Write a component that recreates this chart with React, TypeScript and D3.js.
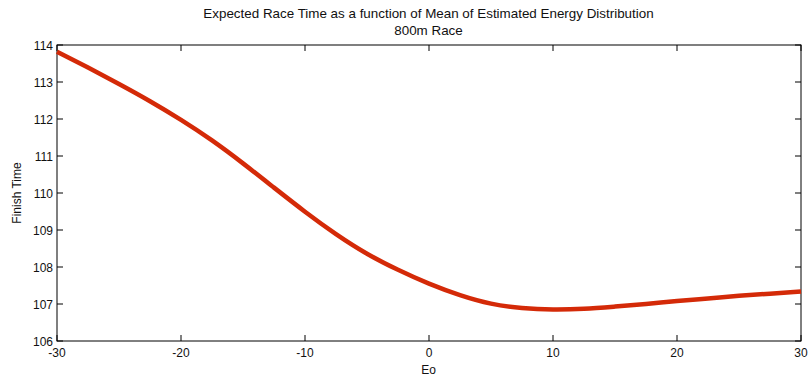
import React from "react";
import * as d3 from "d3";

const eoValues = [-30, -27.5, -25, -22.5, -20, -17.5, -15, -12.5, -10, -7.5, -5, -2.5, 0, 2.5, 5, 7.5, 10, 12.5, 15, 17.5, 20, 22.5, 25, 27.5, 30];
const finishTimes = [113.82, 113.39, 112.945, 112.48, 111.975, 111.42, 110.8, 110.145, 109.495, 108.89, 108.36, 107.925, 107.55, 107.24, 107.01, 106.89, 106.85, 106.87, 106.93, 107.0, 107.08, 107.15, 107.22, 107.28, 107.34];
const xTicks = [-30, -20, -10, 0, 10, 20, 30];
const yTicks = [106, 107, 108, 109, 110, 111, 112, 113, 114];
const titleLines = ["Expected Race Time as a function of Mean of Estimated Energy Distribution", "800m Race"];

const W = 808, H = 379;
const L = 57, R = 801, T = 45, B = 341;
const FONT = "'Liberation Sans', Arial, sans-serif";

export default function App() {
  const x = d3.scaleLinear().domain([-30, 30]).range([L, R]);
  const y = d3.scaleLinear().domain([106, 114]).range([B, T]);
  const pts = eoValues.map((e, i) => [e, finishTimes[i]] as [number, number]);
  const line = d3.line<[number, number]>().x(d => x(d[0])).y(d => y(d[1])).curve(d3.curveNatural);
  const tk = 6;
  return (
    <svg width={W} height={H} style={{ position: "absolute", left: 0, top: 0, background: "#fff" }}>
      <rect x={0} y={0} width={W} height={H} fill="#fff" />
      {titleLines.map((t, i) => (
        <text key={i} x={428.5} y={18 + i * 16.5} textAnchor="middle" fontFamily={FONT} fontSize={13.4} fill="#111">{t}</text>
      ))}
      <rect x={L} y={T} width={R - L} height={B - T} fill="none" stroke="#000" strokeWidth={1} />
      {xTicks.map(t => (
        <g key={"x" + t}>
          <line x1={x(t)} x2={x(t)} y1={B} y2={B - tk} stroke="#000" />
          <line x1={x(t)} x2={x(t)} y1={T} y2={T + tk} stroke="#000" />
          <text x={x(t)} y={B + 16} textAnchor="middle" fontFamily={FONT} fontSize={12} fill="#111">{t}</text>
        </g>
      ))}
      {yTicks.map(t => (
        <g key={"y" + t}>
          <line x1={L} x2={L + tk} y1={y(t)} y2={y(t)} stroke="#000" />
          <line x1={R} x2={R - tk} y1={y(t)} y2={y(t)} stroke="#000" />
          <text x={L - 4} y={y(t) + 4.5} textAnchor="end" fontFamily={FONT} fontSize={12} fill="#111">{t}</text>
        </g>
      ))}
      <text x={428.5} y={374} textAnchor="middle" fontFamily={FONT} fontSize={12} fill="#111">Eo</text>
      <text transform={`translate(21, ${(T + B) / 2}) rotate(-90)`} textAnchor="middle" fontFamily={FONT} fontSize={12} fill="#111">Finish Time</text>
      <path d={line(pts) || ""} fill="none" stroke="#d42a08" strokeWidth={4.5} strokeLinejoin="round" />
    </svg>
  );
}
